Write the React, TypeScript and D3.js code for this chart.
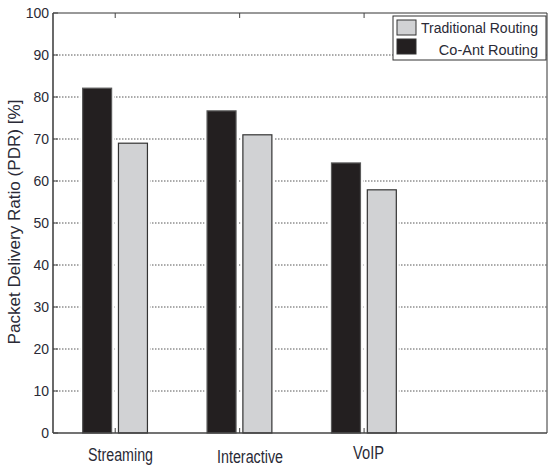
import React from "react";
import * as d3 from "d3";

const categories = ["Streaming", "Interactive", "VoIP"];
const coAnt = [82.1, 76.7, 64.3];
const traditional = [69.0, 71.0, 57.9];
const yTicks = [0, 10, 20, 30, 40, 50, 60, 70, 80, 90, 100];
const seriesNames = ["Traditional Routing", "Co-Ant Routing"];

const W = 548, H = 468;
const L = 53, R = 547, T = 13, B = 433;

export default function App() {
  const x = d3.scaleLinear().domain([0.5, 4.47]).range([L, R]);
  const y = d3.scaleLinear().domain([0, 100]).range([B, T]);
  const font = "'Liberation Sans', Arial, Helvetica, sans-serif";
  const textColor = "#2a2a36";
  const barW = 0.233;
  const bars: any[] = [];
  categories.forEach((c, i) => {
    const cx = i + 1;
    bars.push({ x0: x(cx - 0.262), x1: x(cx - 0.262 + barW), v: coAnt[i], fill: "#231f20", stroke: "#5a5a5a" });
    bars.push({ x0: x(cx + 0.026), x1: x(cx + 0.026 + barW), v: traditional[i], fill: "#d1d2d4", stroke: "#333" });
  });
  const labelDy = [461, 463, 459];
  const labelLen = [65, 66, 31];
  const labelCx = [120.5, 250, 368.5];
  return (
    <svg width={W} height={H} style={{ position: "absolute", left: 0, top: 0, background: "#fff" }}>
      <rect x={0} y={0} width={W} height={H} fill="#fff" />
      {yTicks.filter(t => t > 0 && t < 100).map(t => (
        <line key={"g" + t} x1={L} x2={R} y1={y(t)} y2={y(t)} stroke="#444" strokeWidth={0.9} strokeDasharray="1.5 1.5" />
      ))}
      {bars.map((b, i) => (
        <rect key={"h" + i} x={b.x0} y={y(b.v)} width={b.x1 - b.x0} height={B - y(b.v)} fill="#fff" stroke="#fff" strokeWidth={5} />
      ))}
      {bars.map((b, i) => (
        <rect key={"b" + i} x={b.x0} y={y(b.v)} width={b.x1 - b.x0} height={B - y(b.v)} fill={b.fill} stroke={b.stroke} strokeWidth={1.2} />
      ))}
      <line x1={L} x2={R} y1={T} y2={T} stroke="#333" strokeWidth={1} />
      <line x1={R} x2={R} y1={T} y2={B} stroke="#333" strokeWidth={1} />
      <line x1={L} x2={R} y1={B} y2={B} stroke="#444" strokeWidth={1.6} />
      <line x1={L} x2={L} y1={T} y2={B} stroke="#444" strokeWidth={1.6} />
      {yTicks.map(t => (
        <g key={"t" + t}>
          <line x1={L} x2={L + 5} y1={y(t)} y2={y(t)} stroke="#444" strokeWidth={1} />
          <text x={49} y={y(t) + 5} textAnchor="end" fontFamily={font} fontSize={14} fill={textColor}>{t}</text>
        </g>
      ))}
      {[1, 2, 3].map(v => (
        <line key={"xb" + v} x1={x(v)} x2={x(v)} y1={B} y2={B - 5} stroke="#444" strokeWidth={1} />
      ))}
      {[1, 2, 3].map(v => (
        <line key={"xt" + v} x1={x(v)} x2={x(v)} y1={T} y2={T + 5} stroke="#444" strokeWidth={1} />
      ))}
      {categories.map((c, i) => (
        <text key={"c" + i} x={labelCx[i]} y={labelDy[i]} textAnchor="middle" fontFamily={font} fontSize={17.5}
          textLength={labelLen[i]} lengthAdjust="spacingAndGlyphs" fill={textColor}>{c}</text>
      ))}
      <text transform={`translate(20,222) rotate(-90)`} textAnchor="middle" fontFamily={font} fontSize={16}
        textLength={245} lengthAdjust="spacingAndGlyphs" fill={textColor}>Packet Delivery Ratio (PDR) [%]</text>
      <rect x={393} y={16} width={153} height={44} fill="#fff" stroke="#333" strokeWidth={1} />
      <rect x={397} y={20} width={19} height={15} fill="#d1d2d4" stroke="#333" strokeWidth={1} />
      <rect x={397} y={39} width={19} height={15} fill="#231f20" stroke="#333" strokeWidth={1} />
      <text x={538} y={33} textAnchor="end" fontFamily={font} fontSize={14} fill={textColor}>{seriesNames[0]}</text>
      <text x={538} y={55} textAnchor="end" fontFamily={font} fontSize={14.5} fill={textColor}>{seriesNames[1]}</text>
    </svg>
  );
}
